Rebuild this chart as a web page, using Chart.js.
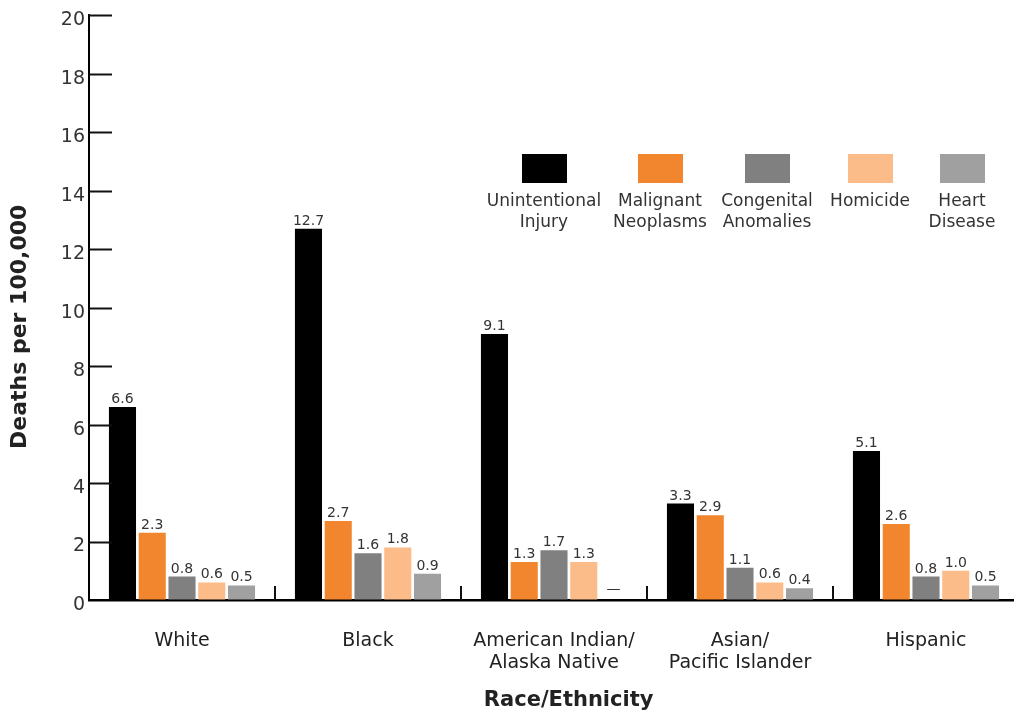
<!DOCTYPE html>
<html>
<head>
<meta charset="utf-8">
<script src="https://cdn.jsdelivr.net/npm/chart.js@4"></script>
<style>
  html, body { margin: 0; padding: 0; background: #fff; overflow: hidden; }
  #wrap { width: 1020px; height: 716px; }
</style>
</head>
<body>
<div id="wrap"><canvas id="deaths-chart"></canvas></div>
<script>
// categories and values (deaths per 100,000)
const groups = [["White"], ["Black"], ["American Indian/", "Alaska Native"], ["Asian/", "Pacific Islander"], ["Hispanic"]];
const causeNames = [["Unintentional", "Injury"], ["Malignant", "Neoplasms"], ["Congenital", "Anomalies"], ["Homicide"], ["Heart", "Disease"]];
const causeColors = ["#000000", "#f2862e", "#808080", "#fbbc8a", "#a0a0a0"];

const unintentionalInjury = [6.6, 12.7, 9.1, 3.3, 5.1];
const malignantNeoplasms = [2.3, 2.7, 1.3, 2.9, 2.6];
const congenitalAnomalies = [0.8, 1.6, 1.7, 1.1, 0.8];
const homicide = [0.6, 1.8, 1.3, 0.6, 1.0];
const heartDisease = [0.5, 0.9, null, 0.4, 0.5];

const yTicks = [0, 2, 4, 6, 8, 10, 12, 14, 16, 18, 20];

const seriesValues = [unintentionalInjury, malignantNeoplasms, congenitalAnomalies, homicide, heartDisease];

//short tick marks drawn inside the plot + separators between groups
const innerTicks = {
    id: "innerTicks",
    afterDraw: (chart) => {
        const ctx = chart.ctx;
        const y = chart.scales.y;
        const x = chart.scales.x;
        const area = chart.chartArea;
        ctx.save();
        ctx.strokeStyle = "#111";
        ctx.lineWidth = 2;
        yTicks.forEach(v => {
            if (v === 0) return;
            const py = Math.round(y.getPixelForValue(v)) + 0.5;
            ctx.beginPath();
            ctx.moveTo(area.left, py);
            ctx.lineTo(area.left + 23, py);
            ctx.stroke();
        });
        for (let i = 0; i < groups.length - 1; i++) {
            const px = Math.round((x.getPixelForValue(i) + x.getPixelForValue(i + 1)) / 2);
            ctx.beginPath();
            ctx.moveTo(px, area.bottom);
            ctx.lineTo(px, area.bottom - 14);
            ctx.stroke();
        }
        ctx.restore();
    }
};

//value labels above each bar, a dash where there is no value
const valueLabels = {
    id: "valueLabels",
    afterDatasetsDraw: (chart) => {
        const ctx = chart.ctx;
        ctx.save();
        ctx.font = "14px 'DejaVu Sans'";
        ctx.fillStyle = "#333";
        ctx.textAlign = "center";
        ctx.textBaseline = "alphabetic";
        chart.data.datasets.forEach((ds, di) => {
            const meta = chart.getDatasetMeta(di);
            meta.data.forEach((bar, i) => {
                const v = ds.data[i];
                if (v === null) {
                    const base = chart.scales.y.getPixelForValue(0);
                    ctx.fillText("\u2014", bar.x, base - 7);
                } else {
                    ctx.fillText(v.toFixed(1), bar.x, bar.y - 4);
                }
            });
        });
        ctx.restore();
    }
};

//legend: swatches with two-line labels underneath
const swatchLegend = {
    id: "swatchLegend",
    afterDraw: (chart) => {
        const ctx = chart.ctx;
        const centers = [544, 660, 767, 870, 962];
        ctx.save();
        ctx.font = "17px 'DejaVu Sans'";
        ctx.textAlign = "center";
        ctx.textBaseline = "alphabetic";
        chart.data.datasets.forEach((ds, i) => {
            ctx.fillStyle = ds.backgroundColor;
            ctx.fillRect(centers[i] - 22, 154, 45, 29);
            ctx.fillStyle = "#333";
            ds.label.forEach((line, j) => {
                ctx.fillText(line, centers[i], 206 + j * 21);
            });
        });
        ctx.restore();
    }
};

new Chart("deaths-chart", {
    type: "bar",
    data: {
        labels: groups,
        datasets: seriesValues.map((vals, i) => ({
            label: causeNames[i],
            data: vals,
            backgroundColor: causeColors[i],
            categoryPercentage: 0.8,
            barPercentage: 0.91
        }))
    },
    options: {
        responsive: true,
        maintainAspectRatio: false,
        animation: false,
        layout: { autoPadding: false, padding: { top: 10, right: 1, left: 0, bottom: 0 } },
        plugins: {
            legend: { display: false },
            tooltip: { enabled: false }
        },
        scales: {
            x: {
                grid: { display: false },
                border: { display: true, color: "#000", width: 2.5 },
                ticks: {
                    color: "#222",
                    font: { family: "DejaVu Sans", size: 19, lineHeight: 1.15 },
                    padding: 22,
                    maxRotation: 0,
                    autoSkip: false
                },
                title: {
                    display: true,
                    // leading spaces nudge the title a bit right, as in the original
                    text: "    Race/Ethnicity",
                    color: "#222",
                    font: { family: "DejaVu Sans", size: 21, weight: "bold" },
                    padding: { top: 0, bottom: 3 }
                },
                afterFit: (scale) => { scale.height = 116; }
            },
            y: {
                min: 0,
                max: 20,
                grid: { display: true, drawOnChartArea: false, drawTicks: false },
                border: { display: true, color: "#000", width: 2 },
                ticks: {
                    stepSize: 2,
                    color: "#333",
                    font: { family: "DejaVu Sans", size: 19 },
                    padding: 4,
                    labelOffset: 5
                },
                title: {
                    display: true,
                    // trailing spaces push the text down a little
                    text: "Deaths per 100,000     ",
                    color: "#222",
                    font: { family: "DejaVu Sans", size: 22, weight: "bold" },
                    padding: { top: 7, bottom: 0 }
                },
                afterFit: (scale) => { scale.width = 89; }
            }
        }
    },
    plugins: [innerTicks, valueLabels, swatchLegend]
});
</script>
</body>
</html>
